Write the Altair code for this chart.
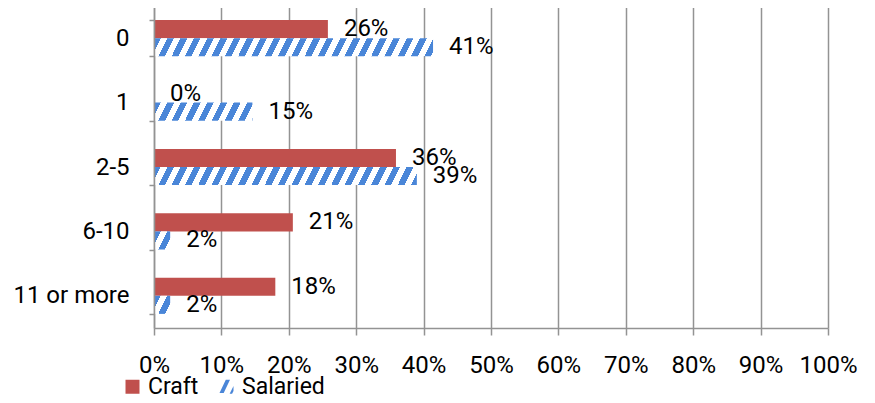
import altair as alt
import pandas as pd

# ---- data ----
categories = ["0", "1", "2-5", "6-10", "11 or more"]
series_names = ["Craft", "Salaried"]
craft_values = [25.8, 0.0, 35.9, 20.6, 18.0]      # percent
salaried_values = [41.4, 14.6, 39.0, 2.4, 2.4]    # percent
x_ticks = [i / 10 for i in range(11)]

RED = "#C0504D"
BLUE = "#4A86D8"
GRID = "#939393"
FONT = "Roboto"

PLOT_W = 674
PLOT_H = 322

rows = []
for c, v in zip(categories, craft_values):
    rows.append({"category": c, "series": "Craft", "value": v / 100})
for c, v in zip(categories, salaried_values):
    rows.append({"category": c, "series": "Salaried", "value": v / 100})
df = pd.DataFrame(rows)


def hatch(frac, shift=9.0, period=13.3, duty=0.5):
    """Diagonal upward-stripe pattern as a hard-stop linear gradient."""
    w = max(frac * PLOT_W, 1.0)
    r = shift / w
    L = (1 + r) / (1 + r * r)
    total = w + shift
    stops = [alt.GradientStop(offset=0, color=BLUE)]
    k = 0
    while True:
        a = k * period
        b = a + duty * period
        nxt = a + period
        if b / total >= 1:
            break
        stops.append(alt.GradientStop(offset=b / total, color=BLUE))
        stops.append(alt.GradientStop(offset=b / total, color="white"))
        if nxt / total >= 1:
            stops.append(alt.GradientStop(offset=1, color="white"))
            break
        stops.append(alt.GradientStop(offset=nxt / total, color="white"))
        stops.append(alt.GradientStop(offset=nxt / total, color=BLUE))
        k += 1
    if stops[-1].offset != 1:
        stops.append(alt.GradientStop(offset=1, color=stops[-1].color))
    return alt.LinearGradient(gradient="linear", stops=stops,
                              x1=0, y1=0, x2=L, y2=L * r)


y_scale = alt.Scale(domain=categories, paddingInner=0.4375, paddingOuter=0.21875)
y_enc = alt.Y("category:N", scale=y_scale, title=None,
              axis=alt.Axis(grid=False, tickBand="extent", tickSize=5,
                            labelPadding=20, domainColor=GRID, tickColor=GRID,
                            domainWidth=1.5, tickWidth=1.5, zindex=1,
                            labelFontSize=24, labelFont=FONT, labelColor="black"))
yoff = alt.YOffset("series:N", scale=alt.Scale(domain=series_names, paddingInner=0, paddingOuter=0))
x_enc = alt.X("value:Q", scale=alt.Scale(domain=[0, 1], nice=False), title=None,
              axis=alt.Axis(values=x_ticks, format=".0%", grid=True, gridColor=GRID,
                            gridWidth=1.5, domainColor=GRID, domainWidth=1.5,
                            tickColor=GRID, tickWidth=1.5, tickSize=7,
                            labelPadding=18, labelFontSize=24, labelFont=FONT,
                            labelColor="black", labelFlush=False))

base = alt.Chart(df)

craft_bars = base.transform_filter(alt.datum.series == "Craft").mark_bar(color=RED).encode(
    x=x_enc, y=y_enc, yOffset=yoff)

layers = [craft_bars]
for c, v in zip(categories, salaried_values):
    layers.append(
        base.transform_filter((alt.datum.series == "Salaried") & (alt.datum.category == c))
        .mark_bar(fill=hatch(v / 100))
        .encode(x=x_enc, y=y_enc, yOffset=yoff)
    )

labels = base.mark_text(align="left", baseline="middle", dx=16, fontSize=24,
                        font=FONT, color="black").encode(
    x=x_enc, y=y_enc, yOffset=yoff, text=alt.Text("value:Q", format=".0%"))
layers.append(labels)

hatch_icon = ("M-1,0.9L-0.1,-1L0.5,-1L-0.4,0.9Z "
              "M0.45,1L1,-0.1L1,0.6L0.8,1Z")
legend = alt.Legend(title=None, orient="none", direction="horizontal",
                    legendX=-33, legendY=369, symbolOpacity=1, symbolSize=196,
                    symbolStrokeWidth=0, labelFont=FONT, labelFontSize=23,
                    labelColor="black", labelOffset=4, columnPadding=16, padding=0)
legend_pts = alt.Chart(pd.DataFrame({"series": series_names})).mark_point(
    filled=True, opacity=0).encode(
    color=alt.Color("series:N", scale=alt.Scale(domain=series_names, range=[RED, BLUE]), legend=legend),
    shape=alt.Shape("series:N", scale=alt.Scale(domain=series_names, range=["square", hatch_icon]), legend=legend),
)
layers.append(legend_pts)

chart = alt.layer(*layers).properties(
    width=PLOT_W, height=PLOT_H,
    autosize=alt.AutoSizeParams(type="none"),
    padding={"left": 146, "top": -2, "right": 30, "bottom": 67},
).configure_view(stroke=None)

chart.save("out.html", embed_options={"renderer": "svg", "actions": False})
